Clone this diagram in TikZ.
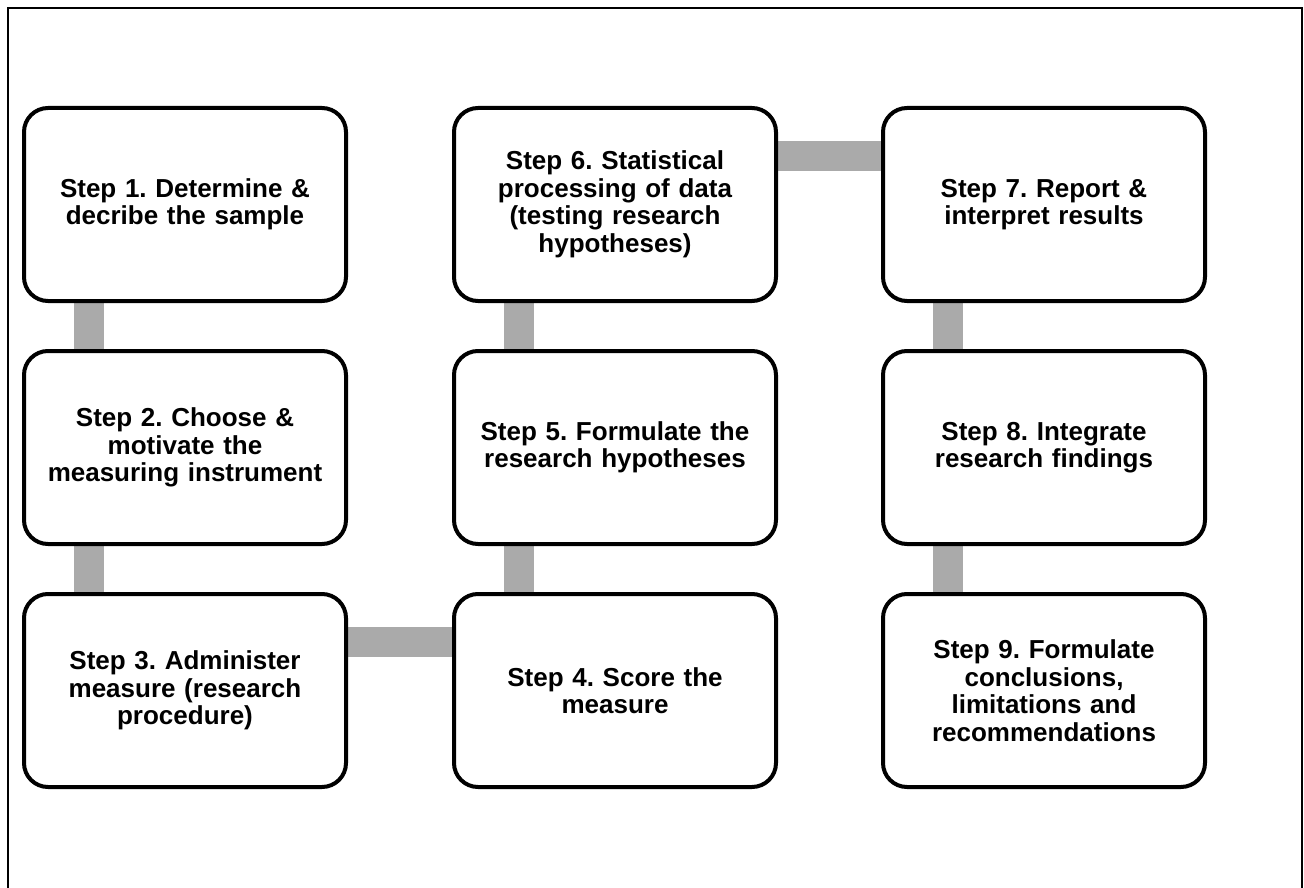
\documentclass[tikz,border=0pt]{standalone}
\usepackage{fontspec}
\setmainfont{Liberation Sans}
\usetikzlibrary{backgrounds}
\definecolor{conngray}{HTML}{AAAAAA}
\frenchspacing
\begin{document}
\begin{tikzpicture}[x=1pt,y=-1pt,
  stepbox/.style={draw=black, line width=4pt, rounded corners=24pt, fill=white,
    minimum width=322pt, minimum height=193pt, align=center, text width=316pt,
    font=\fontsize{26}{27.5}\selectfont\bfseries\frenchspacing, inner sep=0pt},
  conn/.style={draw=conngray, line width=30pt}]
\useasboundingbox (0,0) rectangle (1304,888);
\draw[line width=2pt] (8,888) -- (8,8) -- (1302,8) -- (1302,888);
\node[stepbox] (s1) at (185,204.5) {Step 1. Determine \&\\decribe the sample};
\node[stepbox] (s2) at (185,447.5) {Step 2. Choose \&\\motivate the\\measuring instrument};
\node[stepbox] (s3) at (185,690.5) {Step 3. Administer\\measure (research\\procedure)};
\node[stepbox] (s4) at (615,690.5) {Step 4. Score the\\measure};
\node[stepbox] (s5) at (615,447.5) {Step 5. Formulate the\\research hypotheses};
\node[stepbox] (s6) at (615,204.5) {Step 6. Statistical\\processing of data\\(testing research\\hypotheses)};
\node[stepbox] (s7) at (1044,204.5) {Step 7. Report \&\\interpret results};
\node[stepbox] (s8) at (1044,447.5) {Step 8. Integrate\\research findings};
\node[stepbox] (s9) at (1044,690.5) {Step 9. Formulate\\conclusions,\\limitations and\\recommendations};
\begin{scope}[on background layer]
\draw[conn] ([xshift=67pt]s1.south west) -- ([xshift=67pt]s2.north west);
\draw[conn] ([xshift=67pt]s2.south west) -- ([xshift=67pt]s3.north west);
\draw[conn] ([yshift=-50pt]s3.north east) -- ([yshift=-50pt]s4.north west);
\draw[conn] ([xshift=67pt]s4.north west) -- ([xshift=67pt]s5.south west);
\draw[conn] ([xshift=67pt]s5.north west) -- ([xshift=67pt]s6.south west);
\draw[conn] ([yshift=-50pt]s6.north east) -- ([yshift=-50pt]s7.north west);
\draw[conn] ([xshift=67pt]s7.south west) -- ([xshift=67pt]s8.north west);
\draw[conn] ([xshift=67pt]s8.south west) -- ([xshift=67pt]s9.north west);
\end{scope}
\end{tikzpicture}
\end{document}
